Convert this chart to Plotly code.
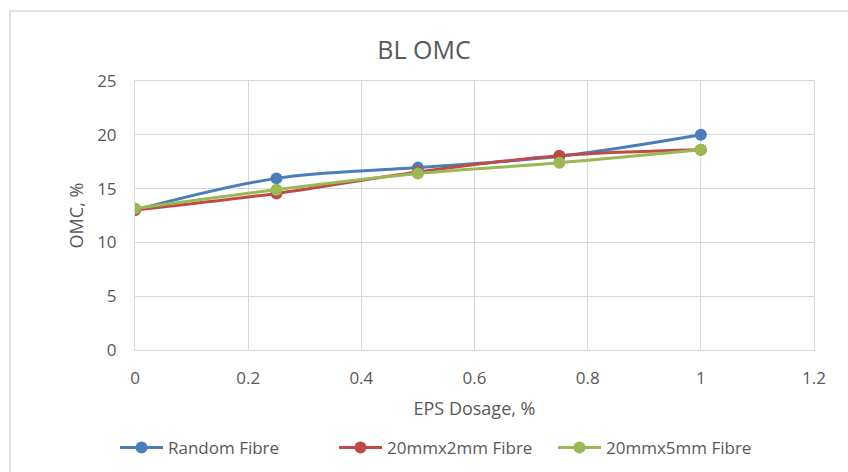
import plotly.graph_objects as go

eps_dosage = [0, 0.25, 0.5, 0.75, 1]
random_fibre = [13.0, 15.95, 16.95, 18.0, 20.0]
fibre_20x2 = [13.0, 14.55, 16.55, 18.05, 18.6]
fibre_20x5 = [13.15, 14.9, 16.4, 17.4, 18.6]

series = [
    ("Random Fibre", random_fibre, "#4a7ebb"),
    ("20mmx2mm Fibre", fibre_20x2, "#be4b48"),
    ("20mmx5mm Fibre", fibre_20x5, "#98b954"),
]

FONT = "Open Sans"
GRAY = "#595959"

fig = go.Figure()
for name, vals, col in series:
    fig.add_trace(go.Scatter(
        x=eps_dosage, y=vals, name=name, mode="lines+markers",
        line=dict(color=col, width=3, shape="spline", smoothing=1.0),
        marker=dict(color=col, size=12),
    ))

L, R, T, B = 135, 848 - 814, 81, 472 - 350
pw = 848 - L - R
ph = 472 - T - B

fig.update_layout(
    width=848, height=472,
    margin=dict(l=L, r=R, t=T, b=B, autoexpand=False),
    paper_bgcolor="white", plot_bgcolor="white",
    font=dict(family=FONT, color=GRAY, size=17),
    title=dict(text="BL OMC", x=0.5, xanchor="center", y=1 - 50 / 472, yanchor="middle",
               font=dict(size=25, color=GRAY, family=FONT)),
    xaxis=dict(range=[0, 1.2], tickvals=[0, 0.2, 0.4, 0.6, 0.8, 1, 1.2],
               ticktext=["0", "0.2", "0.4", "0.6", "0.8", "1", "1.2"],
               showgrid=True, gridcolor="#d9d9d9", gridwidth=1,
               showline=True, linecolor="#d9d9d9", linewidth=1, mirror=True,
               zeroline=False, ticks="", ticklabelstandoff=13,
               tickfont=dict(size=17, color=GRAY),
               title=dict(text="EPS Dosage, %", font=dict(size=18, color=GRAY), standoff=13)),
    yaxis=dict(range=[0, 25], tickvals=[0, 5, 10, 15, 20, 25],
               showgrid=True, gridcolor="#d9d9d9", gridwidth=1,
               showline=True, linecolor="#d9d9d9", linewidth=1, mirror=True,
               zeroline=False, ticks="", ticklabelstandoff=14,
               tickfont=dict(size=17, color=GRAY),
               title=dict(text="OMC, %", font=dict(size=18, color=GRAY), standoff=8)),
    legend=dict(orientation="h", x=(115 - L) / pw, xanchor="left", y=-(448 - 350) / ph, yanchor="middle",
                font=dict(size=17, color=GRAY), itemwidth=43, entrywidth=161,
                entrywidthmode="pixels", tracegroupgap=0),
    showlegend=True,
)

fig.add_shape(type="rect", xref="paper", yref="paper",
              x0=(10 - L) / pw, x1=(860 - L) / pw,
              y0=-(490 - 350) / ph, y1=(350 - 11) / ph,
              line=dict(color="#d9d9d9", width=1.5), fillcolor="rgba(0,0,0,0)", layer="below")

fig.write_html("out.html")
